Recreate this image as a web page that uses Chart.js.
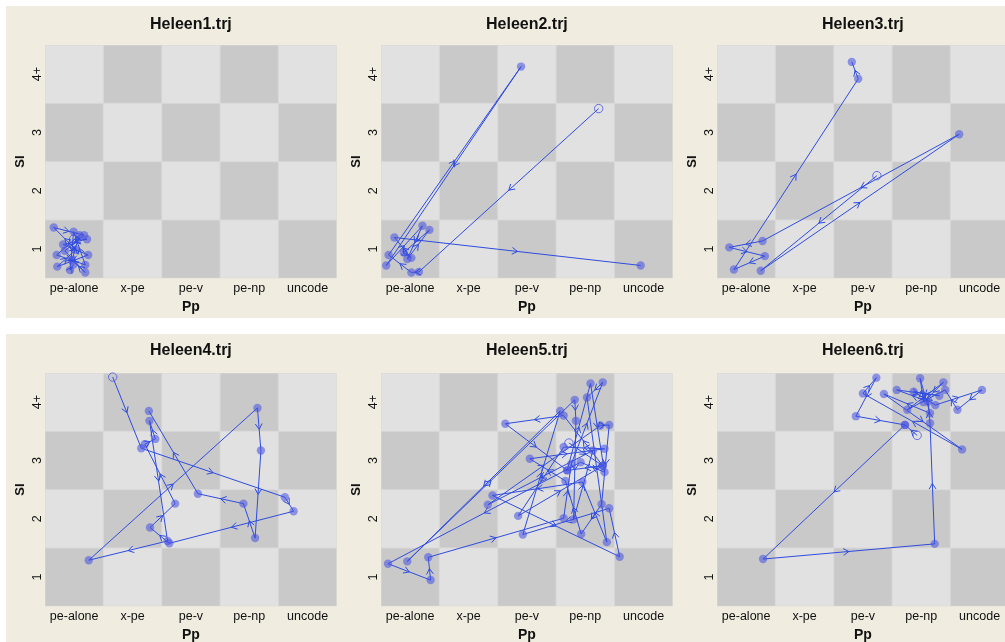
<!DOCTYPE html>
<html>
<head>
<meta charset="utf-8">
<script src="https://cdn.jsdelivr.net/npm/chart.js@4.4.1/dist/chart.umd.min.js"></script>
<style>
  html, body { margin: 0; padding: 0; background: #fff; overflow: hidden; width: 1005px; height: 642px; }
  .panel { position: absolute; width: 336px; height: 312px; background: #f0ede0; }
  canvas { display: block; }
</style>
</head>
<body>
<div class="panel" style="left:6px;top:6px"><canvas id="c1" width="336" height="312"></canvas></div>
<div class="panel" style="left:342px;top:6px"><canvas id="c2" width="336" height="312"></canvas></div>
<div class="panel" style="left:678px;top:6px"><canvas id="c3" width="336" height="312"></canvas></div>
<div class="panel" style="left:6px;top:334px"><canvas id="c4" width="336" height="312"></canvas></div>
<div class="panel" style="left:342px;top:334px"><canvas id="c5" width="336" height="312"></canvas></div>
<div class="panel" style="left:678px;top:334px"><canvas id="c6" width="336" height="312"></canvas></div>
<script>
// state labels
var ppLabels = ['pe-alone', 'x-pe', 'pe-v', 'pe-np', 'uncode'];
var siLabels = ['1', '2', '3', '4+'];
var titles = ['Heleen1.trj', 'Heleen2.trj', 'Heleen3.trj', 'Heleen4.trj', 'Heleen5.trj', 'Heleen6.trj'];

// trajectories: [Pp, SI], first point is the start
var heleen1 = [[0.99,1.17],[1.22,1.17],[0.81,1.08],[1.24,0.90],[0.71,0.70],[1.03,0.99],[0.65,1.37],[1.17,1.24],
  [0.84,0.97],[1.19,0.60],[0.96,0.81],[1.09,1.24],[0.70,0.90],[1.19,0.73],[0.99,1.30],[0.93,0.64],[0.99,0.74]];
var heleen2 = [[4.23,3.41],[1.15,0.61],[1.02,0.60],[0.63,0.90],[2.90,4.13],[0.59,0.72],[1.21,1.40],[0.95,0.83],
  [1.33,1.33],[0.89,0.94],[1.02,0.85],[0.73,1.20],[4.95,0.72]];
var heleen3 = [[3.24,2.26],[1.25,0.63],[4.65,2.97],[1.28,1.14],[0.71,1.03],[1.32,0.88],[0.79,0.65],[2.92,3.92],[2.81,4.21]];
var heleen4 = [[1.66,4.43],[2.15,3.21],[4.61,2.37],[4.76,2.13],[2.63,1.58],[2.30,1.85],[2.73,2.26],[2.21,3.28],
  [2.39,3.37],[2.29,3.68],[2.60,1.62],[1.25,1.29],[4.14,3.90],[4.20,3.17],[4.10,1.67],[3.90,2.26],[3.12,2.43],[2.28,3.85]];
var heleen5 = [[3.72,3.30],[4.30,2.91],[3.63,3.77],[2.63,3.63],[3.69,2.83],[4.09,4.32],[4.33,2.80],[3.92,2.97],
  [0.62,1.23],[1.35,0.95],[1.31,1.34],[3.63,2.01],[3.76,2.94],[4.30,4.34],[4.03,4.08],[4.37,1.60],[3.95,2.63],
  [2.41,2.40],[4.59,1.35],[4.41,2.18],[2.93,1.73],[3.57,3.85],[0.95,1.27],[3.82,4.04],[3.84,3.68],[3.80,1.99],
  [4.13,3.17],[2.33,2.24],[4.26,3.60],[4.41,3.61],[4.28,2.25],[3.93,1.74],[3.66,2.65],[3.05,3.03],[4.33,3.20],
  [3.63,3.23],[2.85,2.05],[4.30,2.91],[3.69,2.83]];
var heleen6 = [[3.93,3.43],[3.72,3.61],[1.29,1.31],[4.23,1.57],[4.15,3.64],[4.12,4.01],[3.58,4.21],[4.31,4.11],
  [3.87,4.18],[4.24,3.95],[5.04,4.21],[4.62,3.87],[4.41,4.21],[3.76,3.87],[4.38,4.34],[4.04,4.00],[3.98,4.41],
  [4.15,3.81],[3.36,4.14],[4.70,3.19],[3.00,4.15],[3.23,4.42],[2.88,3.76],[3.72,3.61]];
var trajectories = [heleen1, heleen2, heleen3, heleen4, heleen5, heleen6];

var lineBlue = '#2f4ce0';
var dotFill = 'rgba(70,80,225,0.55)';
var fontFamily = "'Liberation Sans', Arial, sans-serif";

var board = {
  id: 'board',
  beforeDatasetsDraw: function(chart) {
    var ctx = chart.ctx, x = chart.scales.x, y = chart.scales.y;
    ctx.save();
    ctx.fillStyle = '#d9d9d9';
    ctx.fillRect(chart.chartArea.left, chart.chartArea.top,
      chart.chartArea.right - chart.chartArea.left, chart.chartArea.bottom - chart.chartArea.top);
    for (var c = 0; c < ppLabels.length; c++) {
      for (var r = 0; r < siLabels.length; r++) {
        var x0 = x.getPixelForValue(c + 0.5), x1 = x.getPixelForValue(c + 1.5);
        var y0 = y.getPixelForValue(r + 1.5), y1 = y.getPixelForValue(r + 0.5);
        ctx.fillStyle = (c + r) % 2 === 0 ? '#c9c9c9' : '#e1e1e1';
        ctx.fillRect(x0 + 0.5, y0 + 0.5, x1 - x0 - 1, y1 - y0 - 1);
      }
    }
    ctx.restore();
  }
};

var arrows = {
  id: 'arrows',
  afterDatasetsDraw: function(chart) {
    var pts = chart.getDatasetMeta(0).data;
    var ctx = chart.ctx;
    ctx.save();
    ctx.strokeStyle = lineBlue;
    ctx.lineWidth = 1;
    for (var i = 1; i < pts.length; i++) {
      var a = pts[i - 1], b = pts[i];
      var mx = (a.x + b.x) / 2, my = (a.y + b.y) / 2;
      var ang = Math.atan2(b.y - a.y, b.x - a.x);
      ctx.beginPath();
      ctx.moveTo(mx - 6.5 * Math.cos(ang - 0.55), my - 6.5 * Math.sin(ang - 0.55));
      ctx.lineTo(mx, my);
      ctx.lineTo(mx - 6.5 * Math.cos(ang + 0.55), my - 6.5 * Math.sin(ang + 0.55));
      ctx.stroke();
    }
    ctx.restore();
  }
};

function makeChart(id, title, traj, row) {
  var pts = traj.map(function(p) { return {x: p[0], y: p[1]}; });
  var fills = pts.map(function(p, i) { return i === 0 ? 'rgba(0,0,0,0)' : dotFill; });
  var borders = pts.map(function(p, i) { return i === 0 ? 'rgba(80,90,225,0.85)' : 'rgba(0,0,0,0)'; });
  var bw = pts.map(function(p, i) { return i === 0 ? 1 : 0; });
  var titleTop = row === 0 ? 9 : 7;

  new Chart(document.getElementById(id), {
    type: 'scatter',
    data: {
      datasets: [{
        data: pts,
        showLine: true,
        clip: 8,
        borderColor: lineBlue,
        borderWidth: 1,
        pointRadius: 4.2,
        pointBackgroundColor: fills,
        pointBorderColor: borders,
        pointBorderWidth: bw
      }]
    },
    options: {
      responsive: false,
      animation: false,
      events: [],
      layout: { padding: { left: 0, right: 5, top: 0, bottom: 0 } },
      plugins: {
        legend: { display: false },
        tooltip: { enabled: false },
        title: {
          display: true, text: title, fullSize: false, color: '#111',
          font: { size: 16, weight: 'bold', family: fontFamily },
          padding: { top: titleTop, bottom: 19.8 - titleTop }
        }
      },
      scales: {
        x: {
          type: 'linear', min: 0.5, max: 5.5,
          afterBuildTicks: function(s) { s.ticks = ppLabels.map(function(l, i) { return {value: i + 1}; }); },
          afterFit: function(s) { s.height = 39.7; },
          grid: { display: false, drawTicks: false },
          border: { display: false },
          ticks: {
            autoSkip: false, maxRotation: 0, padding: 3, color: '#111',
            font: { size: 12.5, family: fontFamily },
            callback: function(v) { return ppLabels[v - 1]; }
          },
          title: {
            display: true, text: 'Pp', color: '#111',
            font: { size: 14, weight: 'bold', family: fontFamily },
            padding: { top: 0, bottom: 2.5 }
          }
        },
        y: {
          type: 'linear', min: 0.5, max: 4.5,
          afterBuildTicks: function(s) { s.ticks = siLabels.map(function(l, i) { return {value: i + 1}; }); },
          afterFit: function(s) { s.width = 39; },
          grid: { display: false, drawTicks: false },
          border: { display: false },
          ticks: {
            autoSkip: false, minRotation: 90, maxRotation: 90, padding: 0, crossAlign: 'center', color: '#111',
            font: { size: 12.5, family: fontFamily },
            callback: function(v) { return siLabels[v - 1]; }
          },
          title: {
            display: true, text: 'SI', color: '#111',
            font: { size: 13, weight: 'bold', family: fontFamily },
            padding: { top: 7, bottom: 0 }
          }
        }
      }
    },
    plugins: [board, arrows]
  });
}

for (var k = 0; k < trajectories.length; k++) {
  makeChart('c' + (k + 1), titles[k], trajectories[k], k < 3 ? 0 : 1);
}
</script>
</body>
</html>
